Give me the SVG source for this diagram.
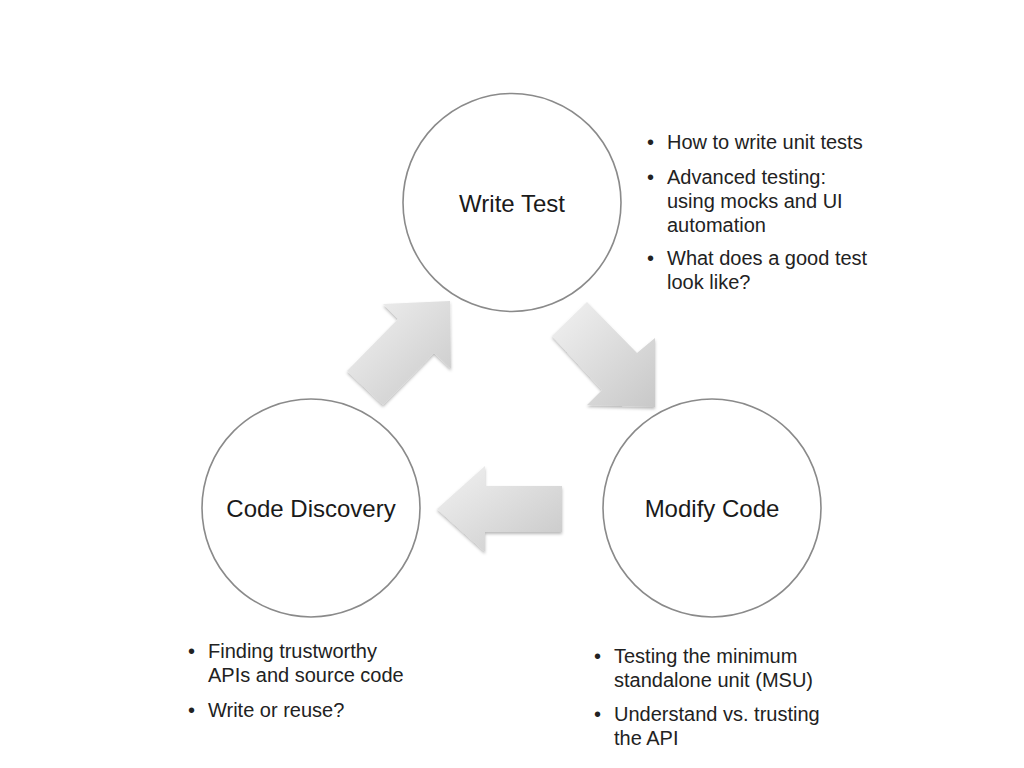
<svg xmlns="http://www.w3.org/2000/svg" width="1024" height="768" viewBox="0 0 1024 768">
<style>
.node{fill:#ffffff;stroke:#8a8a8a;stroke-width:1.6}
.label{font-family:"Liberation Sans",Arial,sans-serif;font-size:24px;fill:#1a1a1a;text-anchor:middle}
.note{font-family:"Liberation Sans",Arial,sans-serif;font-size:20px;fill:#222222}
.arrow{fill:url(#grad);filter:url(#shadow)}
</style>
<defs>
<linearGradient id="grad" x1="0" y1="0" x2="1" y2="1">
<stop offset="0" stop-color="#f2f2f2"/>
<stop offset="1" stop-color="#c8c8c8"/>
</linearGradient>
<filter id="shadow" x="-20%" y="-20%" width="140%" height="140%">
<feDropShadow dx="0" dy="2" stdDeviation="1.5" flood-color="#000000" flood-opacity="0.28"/>
</filter>
</defs>
<rect width="1024" height="768" fill="#ffffff"/>
<g id="connectors">
<polygon class="arrow" points="450,301 451,369 434,353 383,405 347,371 398,319 383,304"/>
<polygon class="arrow" points="587,302 637,353 655,338 655,407 587,405 602,390 552,336"/>
<polygon class="arrow" points="437,509 485,466 485,486 562,486 562,532 485,532 485,552"/>
</g>
<g id="write-test">
<circle class="node" cx="512" cy="202.5" r="109"/>
<text class="label" x="512" y="212">Write Test</text>
</g>
<g id="code-discovery">
<circle class="node" cx="311" cy="508" r="109"/>
<text class="label" x="311" y="517">Code Discovery</text>
</g>
<g id="modify-code">
<circle class="node" cx="712" cy="508" r="109"/>
<text class="label" x="712" y="517">Modify Code</text>
</g>
<g id="write-test-notes" class="note">
<text x="647" y="149">•</text><text x="667" y="149">How to write unit tests</text>
<text x="647" y="184">•</text><text x="667" y="184">Advanced testing:</text>
<text x="667" y="208">using mocks and UI</text>
<text x="667" y="232">automation</text>
<text x="647" y="265">•</text><text x="667" y="265">What does a good test</text>
<text x="667" y="289">look like?</text>
</g>
<g id="code-discovery-notes" class="note">
<text x="188" y="658">•</text><text x="208" y="658">Finding trustworthy</text>
<text x="208" y="682">APIs and source code</text>
<text x="188" y="717">•</text><text x="208" y="717">Write or reuse?</text>
</g>
<g id="modify-code-notes" class="note">
<text x="594" y="663">•</text><text x="614" y="663">Testing the minimum</text>
<text x="614" y="687">standalone unit (MSU)</text>
<text x="594" y="721">•</text><text x="614" y="721">Understand vs. trusting</text>
<text x="614" y="745">the API</text>
</g>
</svg>
